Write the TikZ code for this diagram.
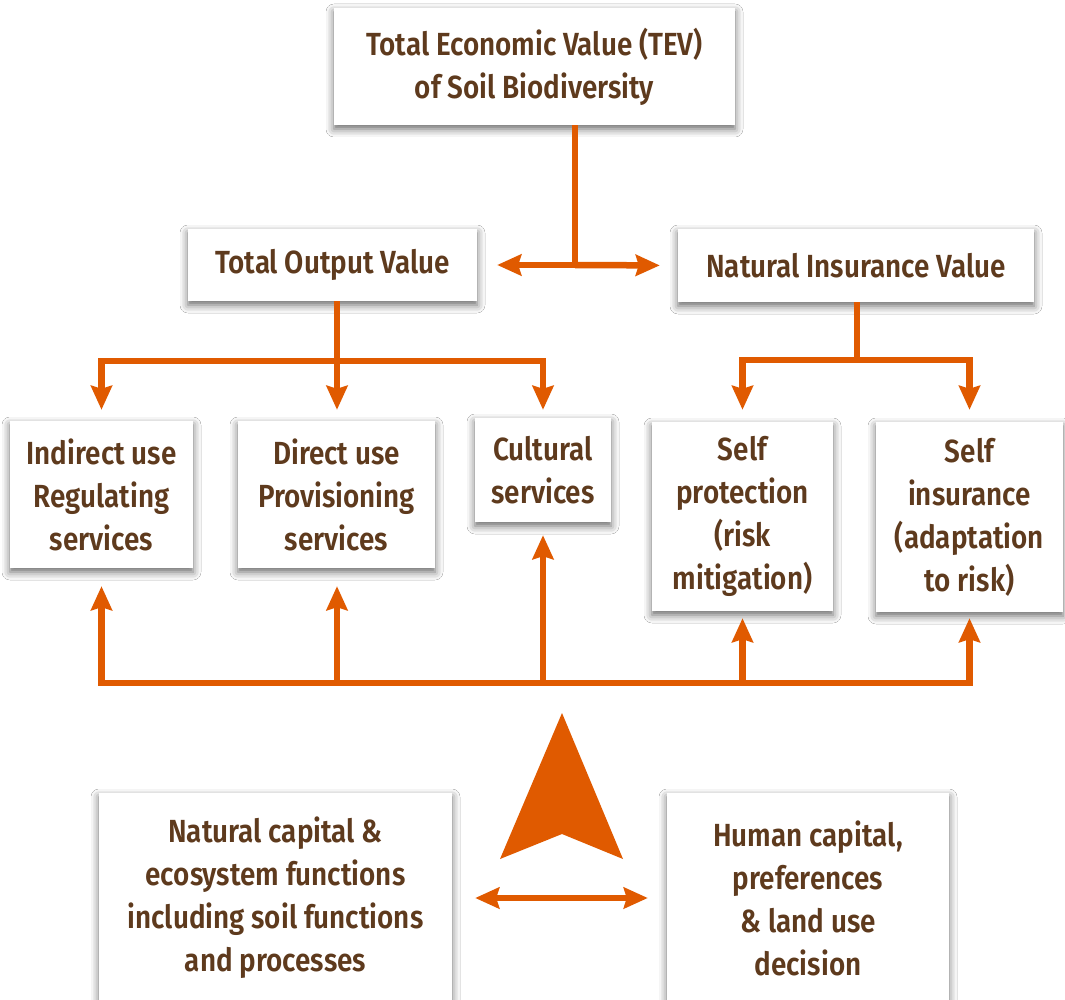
\documentclass[tikz,border=0pt]{standalone}
\usepackage{fontspec}
\setmainfont{Fira Sans}[UprightFont={* SemiBold}, FakeStretch=0.87]
\usepackage{tikz}
\usetikzlibrary{arrows.meta, shadows.blur}

\definecolor{orng}{HTML}{E05A00}
\definecolor{brwn}{HTML}{5E3A1D}

\begin{document}
\begin{tikzpicture}[
  x=1pt, y=-1pt,
  box/.style  = {fill=white, inner sep=0pt, align=center, text=brwn,
                 font=\fontsize{32}{43}\selectfont,
                 blur shadow={shadow xshift=0pt, shadow yshift=-4pt,
                              shadow blur radius=8pt, shadow opacity=60}},
  ln/.style   = {draw=orng, line width=6.5pt},
  arr/.style  = {ln, -{Stealth[length=24pt, width=21pt, inset=3pt]}},
  dbl/.style  = {ln, {Stealth[length=24pt, width=21pt, inset=3pt]}-{Stealth[length=24pt, width=21pt, inset=3pt]}},
]
  \fill[white] (0,0) rectangle (1065,1000);
  \useasboundingbox (0,0) rectangle (1065,1000);

  % top levels
  \node[box, minimum width=401pt, minimum height=117pt] (tev) at (534.5,66.5)
    {Total Economic Value (TEV)\\of Soil Biodiversity};
  \node[box, minimum width=289pt, minimum height=72pt] (tov) at (332.5,265)
    {Total Output Value};
  \node[box, minimum width=356pt, minimum height=73pt] (niv) at (856,265.5)
    {Natural Insurance Value};

  % service boxes
  \node[box, minimum width=183pt, minimum height=147pt] (indirect) at (101.5,494.5)
    {Indirect use\\Regulating\\services};
  \node[box, minimum width=197pt, minimum height=147pt] (direct) at (336.5,494.5)
    {Direct use\\Provisioning\\services};
  \node[box, minimum width=136pt, minimum height=104pt] (cultural) at (543,470)
    {Cultural\\services};
  \node[box, minimum width=181pt, minimum height=189pt] (selfprot) at (742.5,516.5)
    {Self\\protection\\(risk\\mitigation)};
  \node[box, minimum width=187pt, minimum height=190pt] (selfins) at (969.5,517)
    {Self\\insurance\\(adaptation\\to risk)};

  % capital boxes
  \node[box, minimum width=353pt, minimum height=210pt] (natcap) at (275.5,898)
    {Natural capital \&\\ecosystem functions\\including soil functions\\and processes};
  \node[box, minimum width=282pt, minimum height=210pt] (humcap) at (808,898)
    {Human capital,\\preferences\\\& land use\\decision};

  \coordinate (tevj) at (575,265);
  \coordinate (tovj) at (337,361);
  \coordinate (nivj) at (857,360);
  \coordinate (bus)  at (543,683);

  \draw[ln] (tev.south -| tevj) -- (tevj);
  \draw[arr, shorten >=20pt] (tevj) -- (tov.east);
  \draw[arr, shorten >=18pt] (tevj) -- (niv.west);

  \draw[arr, shorten >=11pt] (tov.south -| tovj) -- (direct.north -| tovj);
  \draw[arr, shorten >=11pt] (tovj) -| (indirect.north);
  \draw[arr, shorten >=8pt]  (tovj) -| (cultural.north);

  \draw[ln] (niv.south -| nivj) -- (nivj);
  \draw[arr, shorten >=12pt] (nivj) -| (selfprot.north);
  \draw[arr, shorten >=12pt] (nivj) -| (selfins.north);

  \draw[arr, shorten >=18pt] (bus) -| (indirect.south);
  \draw[arr, shorten >=6pt]  (bus) -| (selfins.south);
  \draw[arr, shorten >=13pt] (bus) -- (cultural.south);
  \draw[arr, shorten >=18pt] (bus -| tovj) -- (direct.south -| tovj);
  \draw[arr, shorten >=7pt]  (bus -| selfprot.south) -- (selfprot.south);

  % big arrow
  \fill[orng] (562,713) -- (623,859) -- (562,834) -- (500,859) -- cycle;

  \draw[dbl, shorten <=23pt, shorten >=19pt] (natcap) -- (humcap);
\end{tikzpicture}
\end{document}
